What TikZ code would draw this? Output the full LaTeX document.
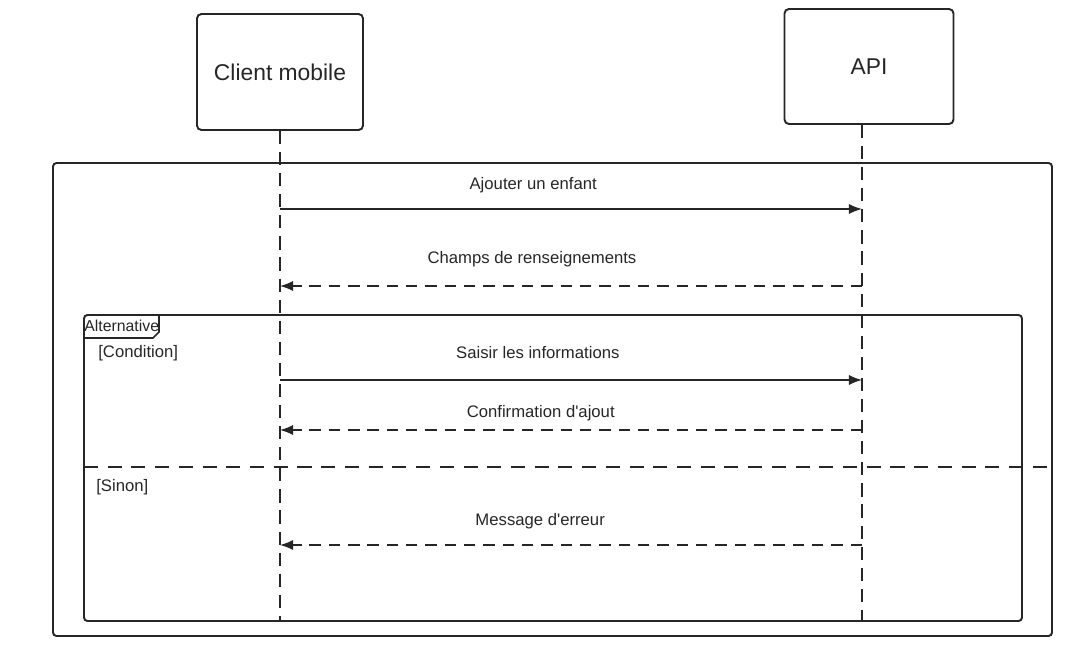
\documentclass[tikz,border=0pt]{standalone}
\usepackage{fontspec}
\setmainfont{Liberation Sans}
\usetikzlibrary{arrows.meta}

\begin{document}
\begin{tikzpicture}[x=0.02cm,y=-0.02cm,
    actor/.style={draw=black!85,line width=1.1pt,rounded corners=2.5pt,
      font=\fontsize{13}{15}\selectfont,text=black!85},
    lifeline/.style={draw=black!85,line width=0.9pt,dash pattern=on 7.5pt off 4.5pt},
    frame/.style={draw=black!85,line width=1.1pt,rounded corners=2pt},
    call/.style={draw=black!85,line width=0.8pt,-{Latex[length=7.5pt,width=5.8pt]}},
    reply/.style={call,dash pattern=on 6.5pt off 4.5pt},
    lbl/.style={font=\fontsize{9.5}{11}\selectfont,text=black!85,inner sep=0pt}]
  \useasboundingbox (0,0) rectangle (1067,663);

  % participants
  \node[actor,minimum width=3.32cm,minimum height=2.32cm] (client) at (280,72) {Client mobile};
  \node[actor,minimum width=3.38cm,minimum height=2.30cm] (api) at (869,66.5) {API};

  % outer frame and the alt fragment
  \draw[frame] (53,163) rectangle (1052,636);
  \draw[frame] (84,315) rectangle (1022,621);
  \draw[black!85,line width=0.9pt] (84,338) -- (153,338) -- (159,332) -- (159,315);
  \node[lbl,font=\fontsize{9}{11}\selectfont,anchor=west] (alt) at (84,326) {Alternative};
  \node[lbl,anchor=west] (cond) at (98,353) {[Condition]};
  \node[lbl,anchor=west] (sinon) at (96,487) {[Sinon]};
  \draw[black!85,line width=0.9pt,dash pattern=on 8pt off 5.5pt] (84,467) -- (1050,467);

  % lifelines
  \coordinate (clientEnd) at (280,621);
  \coordinate (apiEnd) at (862,621);
  \draw[lifeline] (client.south) -- (clientEnd);
  \draw[lifeline] (api.south -| apiEnd) -- (apiEnd);

  % message points on the lifelines
  \coordinate (c1) at (280,209); \coordinate (a1) at (862,209);
  \coordinate (c2) at (280,286); \coordinate (a2) at (862,286);
  \coordinate (c3) at (280,380); \coordinate (a3) at (862,380);
  \coordinate (c4) at (280,430); \coordinate (a4) at (862,430);
  \coordinate (c5) at (280,545); \coordinate (a5) at (862,545);

  % messages
  \draw[call] (c1) -- node[lbl,pos=.435,yshift=13.7pt] {Ajouter un enfant} (a1);
  \draw[reply] (a2) -- node[lbl,pos=.567,yshift=15.4pt] {Champs de renseignements} (c2);
  \draw[call] (c3) -- node[lbl,pos=.443,yshift=15.4pt] {Saisir les informations} (a3);
  \draw[reply] (a4) -- node[lbl,pos=.552,yshift=9.7pt] {Confirmation d\textquotesingle ajout} (c4);
  \draw[reply] (a5) -- node[lbl,pos=.553,yshift=13.7pt] {Message d\textquotesingle erreur} (c5);
\end{tikzpicture}
\end{document}
